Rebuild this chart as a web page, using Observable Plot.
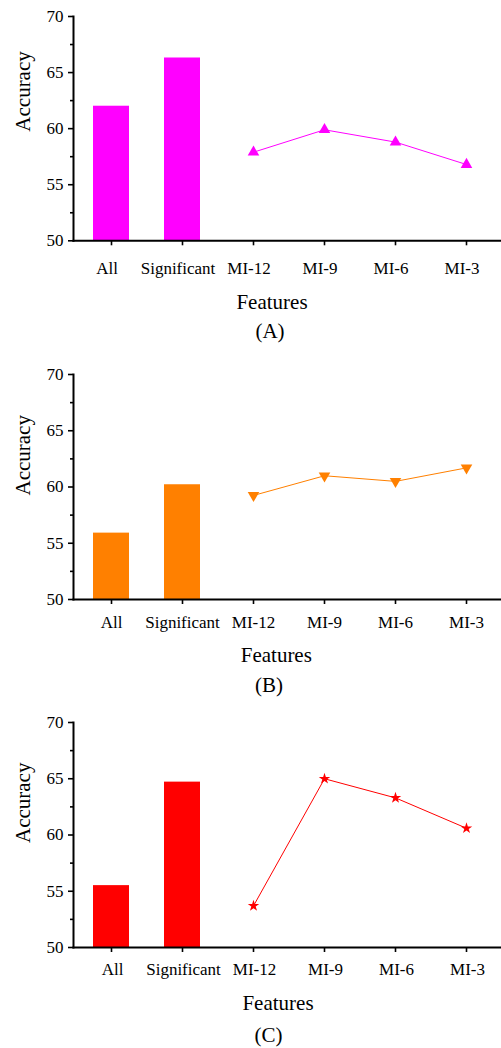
<!DOCTYPE html>
<html>
<head>
<meta charset="utf-8">
<script src="https://cdn.jsdelivr.net/npm/d3@7"></script>
<script src="https://cdn.jsdelivr.net/npm/@observablehq/plot@0.6"></script>
<style>
  html, body { margin: 0; padding: 0; background: #fff; }
  #wrap { position: relative; width: 501px; height: 1048px; overflow: hidden; }
  #wrap svg { position: absolute; left: 0; }
</style>
</head>
<body>
<div id="wrap"></div>
<script>
// ---------- data ----------
const categories = ["All", "Significant", "MI-12", "MI-9", "MI-6", "MI-3"];
const barCategories = ["All", "Significant"];
const lineCategories = ["MI-12", "MI-9", "MI-6", "MI-3"];
const panelLabels = ["(A)", "(B)", "(C)"];
const xTitle = "Features";
const yTitle = "Accuracy";
const yDomain = [50, 70];
const yTicks = [50, 55, 60, 65, 70];
const yMinorTicks = [52.5, 57.5, 62.5, 67.5];

const barsA = [62.0, 66.3];
const lineA = [57.9, 59.9, 58.8, 56.8];
const barsB = [55.9, 60.2];
const lineB = [59.25, 61.0, 60.5, 61.7];
const barsC = [55.5, 64.7];
const lineC = [53.7, 65.0, 63.3, 60.6];

const colors = ["#FF00FF", "#FF8000", "#FF0000"];

// ---------- symbols ----------
const sqrt3 = Math.sqrt(3);
const triangleDown = {
  draw(context, size) {
    const y = -Math.sqrt(size / (sqrt3 * 3));
    context.moveTo(0, -y * 2);
    context.lineTo(-sqrt3 * y, y);
    context.lineTo(sqrt3 * y, y);
    context.closePath();
  }
};
const symbols = ["triangle", triangleDown, "star"];
const symbolR = [4.3, 4.3, 3.6];

// ---------- layout per panel ----------
const panels = [
  {bars: barsA, line: lineA, svgTop: 0,   plotH: 224.3, tickPad: 16.6, tickDx: -4.5, featDx: -15.5, featDy: 68.7, capDx: -17.5, capDy: 97.7, accDy: 3},
  {bars: barsB, line: lineB, svgTop: 358, plotH: 225,   tickPad: 11.6, tickDx: 0,    featDx: -11.2, featDy: 62.7, capDx: -18.5, capDy: 92.8, accDy: 8.5},
  {bars: barsC, line: lineC, svgTop: 706, plotH: 225,   tickPad: 10.2, tickDx: 1,    featDx: -9.5,  featDy: 62,   capDx: -19,   capDy: 94.8, accDy: 8}
];

const wrap = document.getElementById("wrap");
const marginTop = 16, marginLeft = 73, marginBottom = 104;

panels.forEach((p, i) => {
  const barData = barCategories.map((c, j) => ({cat: c, v: p.bars[j]}));
  const lineData = lineCategories.map((c, j) => ({cat: c, v: p.line[j]}));
  const color = colors[i];
  const chart = Plot.plot({
    width: 501,
    height: marginTop + p.plotH + marginBottom,
    marginTop, marginLeft, marginRight: 0, marginBottom,
    style: {fontFamily: "'Liberation Serif', 'Times New Roman', serif", fontSize: "17px", color: "#000", background: "transparent"},
    x: {type: "band", domain: categories, range: [74, 502.4], paddingInner: 0.5, paddingOuter: 0.25},
    y: {domain: yDomain},
    marks: [
      Plot.barY(barData, {x: "cat", y1: yDomain[0], y2: "v", fill: color}),
      Plot.line(lineData, {x: "cat", y: "v", stroke: color, strokeWidth: 1}),
      Plot.dot(lineData, {x: "cat", y: "v", symbol: symbols[i], r: symbolR[i], fill: color, stroke: "none"}),
      Plot.axisY({ticks: yTicks, tickSize: 5, tickPadding: 5, strokeWidth: 1.6, label: null, fontSize: 17}),
      Plot.axisY({ticks: yMinorTicks, tickSize: 3, strokeWidth: 1.6, fill: "none", label: null}),
      Plot.axisX({tickSize: 5, strokeWidth: 1.6, fill: "none", label: null}),
      Plot.axisX({tickSize: 0, tickPadding: 5 + p.tickPad, label: null, fontSize: 17, dx: p.tickDx}),
      Plot.frame({anchor: "left", strokeWidth: 2}),
      Plot.frame({anchor: "bottom", strokeWidth: 2}),
      Plot.text([xTitle], {text: d => d, frameAnchor: "bottom", lineAnchor: "bottom", dx: p.featDx, dy: p.featDy, fontSize: 21}),
      Plot.text([panelLabels[i]], {text: d => d, frameAnchor: "bottom", lineAnchor: "bottom", dx: p.capDx, dy: p.capDy, fontSize: 21}),
      Plot.text([yTitle], {text: d => d, frameAnchor: "left", rotate: -90, dx: -50, dy: p.accDy, fontSize: 21})
    ]
  });
  chart.style.top = p.svgTop + "px";
  wrap.appendChild(chart);
});
</script>
</body>
</html>
